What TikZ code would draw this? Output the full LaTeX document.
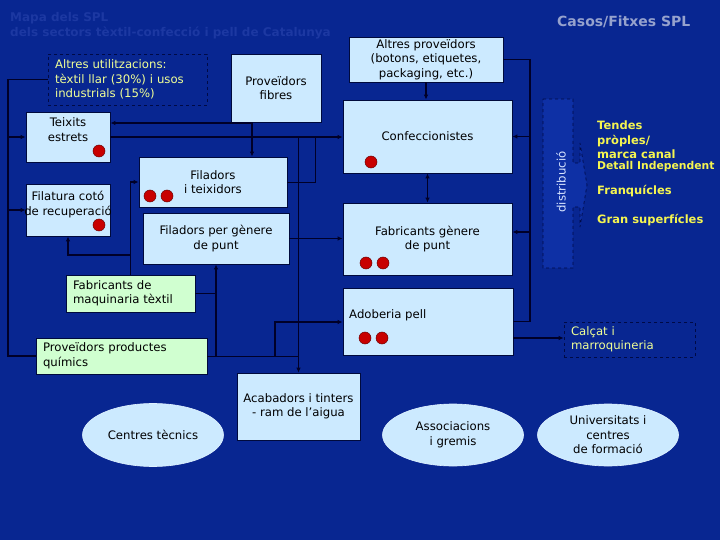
\documentclass[tikz,border=0pt]{standalone}
\usepackage{fontspec}
\setmainfont{DejaVu Sans}
\usetikzlibrary{arrows.meta,shapes.geometric}
\definecolor{bg}{RGB}{8,38,145}
\definecolor{lb}{RGB}{204,234,255}
\definecolor{lg}{RGB}{208,255,208}
\definecolor{lin}{RGB}{0,0,40}
\definecolor{boxline}{RGB}{0,10,60}
\definecolor{dashc}{RGB}{0,10,70}
\definecolor{yel}{RGB}{240,255,150}
\definecolor{ybold}{RGB}{245,245,80}
\definecolor{dotred}{RGB}{200,0,0}
\definecolor{dotdark}{RGB}{110,0,0}
\definecolor{titc}{RGB}{28,56,162}
\definecolor{casc}{RGB}{150,162,205}
\definecolor{distf}{RGB}{14,48,165}
\definecolor{distt}{RGB}{215,228,255}
\newcommand\myfs{\fontsize{11.7}{14.5}\selectfont}
\newcommand\myfsb{\fontsize{11.5}{14}\selectfont\bfseries}
\tikzset{
  box/.style={draw=boxline, fill=lb, line width=0.8pt, inner sep=0pt, align=center, font=\myfs, text=black},
  gbox/.style={box, fill=lg, align=left},
  dbox/.style={draw=dashc, dashed, line width=0.7pt, fill=bg, inner sep=0pt, align=left, text=yel, font=\myfs},
  ell/.style={ellipse, draw=lb!60!white, fill=lb, line width=0.6pt, inner sep=0pt, align=center, font=\myfs, text=black},
  con/.style={draw=lin, line width=1.4pt},
  thin/.style={draw=lin, line width=0.9pt},
  tip/.tip={Latex[length=5pt,width=4.5pt]},
  arr/.style={con, -tip},
  tarr/.style={thin, -tip},
  darr/.style={con, tip-tip},
  dot/.style={circle, fill=dotred, draw=dotdark, line width=0.5pt, minimum size=12pt, inner sep=0pt},
  lbl/.style={font=\myfs, inner sep=0pt, align=center, text=black},
  yl/.style={font=\myfsb, text=ybold, inner sep=0pt, anchor=west, text height=8pt, text depth=2pt},
}
\begin{document}
\begin{tikzpicture}[x=1pt,y=-1pt]
\fill[bg] (0,0) rectangle (720,540);
\useasboundingbox (0,0) rectangle (720,540);

% titles
\node[font=\fontsize{12}{14}\selectfont\bfseries, text=titc, anchor=west, inner sep=0pt] (t1) at (10,18) {Mapa dels SPL};
\node[font=\fontsize{12}{14}\selectfont\bfseries, text=titc, anchor=west, inner sep=0pt] (t2) at (10,33) {dels sectors tèxtil-confecció i pell de Catalunya};
\node[font=\fontsize{14}{16}\selectfont\bfseries, text=casc, anchor=west, inner sep=0pt] (cas) at (557,22) {Casos/Fitxes SPL};

% boxes
\node[dbox, minimum width=159pt, minimum height=51pt, text width=145pt] (altu) at (127.5,79.5) {Altres utilitzacions:\\tèxtil llar (30\%) i usos\\industrials (15\%)};
\node[box, minimum width=90pt, minimum height=68pt] (fib) at (276,88) {Proveïdors\\fibres};
\node[box, minimum width=154pt, minimum height=45pt] (altp) at (426,59.5) {Altres proveïdors\\(botons, etiquetes,\\packaging, etc.)};
\node[box, minimum width=169pt, minimum height=73pt] (conf) at (427.5,136.5) {Confeccionistes};
\node[box, minimum width=169pt, minimum height=72pt] (fgp) at (427.5,239) {Fabricants gènere\\de punt};
\node[box, minimum width=170pt, minimum height=67pt] (adob) at (428,321.5) {};
\node[lbl, anchor=west] (adobT) at (349,315) {Adoberia pell};
\node[box, minimum width=84pt, minimum height=50pt] (teix) at (68,137) {};
\node[lbl] (teixT) at (68,129.5) {Teixits\\estrets};
\node[box, minimum width=84pt, minimum height=52pt] (fila) at (68,210) {};
\node[lbl] (filaT) at (68,204.5) {Filatura cotó\\de recuperació};
\node[box, minimum width=148pt, minimum height=50pt] (fit) at (213,182) {Filadors\\i teixidors};
\node[box, minimum width=146pt, minimum height=51pt] (fpg) at (216,238.5) {Filadors per gènere\\de punt};
\node[gbox, minimum width=129pt, minimum height=37pt, text width=115pt] (maq) at (130.5,293.5) {Fabricants de\\maquinaria tèxtil};
\node[gbox, minimum width=171pt, minimum height=36pt, text width=157pt] (quim) at (121.5,356) {Proveïdors productes\\químics};
\node[box, minimum width=123pt, minimum height=67pt] (acab) at (298.5,406.5) {Acabadors i tinters\\- ram de l’aigua};
\node[dbox, minimum width=131pt, minimum height=35pt, text width=117pt] (calc) at (629.5,339.5) {Calçat i\\marroquineria};

% ellipses
\node[ell, minimum width=141pt, minimum height=63pt] (cen) at (153,435) {Centres tècnics};
\node[ell, minimum width=141pt, minimum height=62pt] (assoc) at (453,435) {Associacions\\i gremis};
\node[ell, minimum width=141pt, minimum height=62pt] (univ) at (608,435) {Universitats i\\centres\\de formació};

% dots
\node[dot] (d1) at (99,151) {};
\node[dot] (d2) at (99,225) {};
\node[dot] (d3) at (150,196) {};
\node[dot] (d4) at (167,196) {};
\node[dot] (d5) at (371,162) {};
\node[dot] (d6) at (366,263) {};
\node[dot] (d7) at (383,263) {};
\node[dot] (d8) at (365,338) {};
\node[dot] (d9) at (382,338) {};

% distribution arrow
\draw[draw=dashc, dashed, line width=0.7pt, fill=distf] (543,99) -- (573,99) -- (573,163) -- (580,163) -- (580,143) -- (587,185) -- (580,227) -- (580,207) -- (573,207) -- (573,268) -- (543,268) -- cycle;
\node[font=\myfs, text=distt, rotate=90, inner sep=0pt] (dist) at (561,182) {distribució};

% channel list
\node[yl] (c1) at (597,127) {Tendes};
\node[yl] (c2) at (597,142) {pròples/};
\node[yl] (c3) at (597,156) {marca canal};
\node[yl, font=\fontsize{10.8}{13}\selectfont\bfseries] (c4) at (597,167) {Detall Independent};
\node[yl] (c5) at (597,192) {Franquícles};
\node[yl] (c6) at (597,220) {Gran superfícles};

% junction coordinates
\coordinate (L1) at (8,79.5);
\coordinate (L2) at (8,356);
\coordinate (F1) at (252,123);
\coordinate (J2) at (315,137);
\coordinate (M1) at (130.5,255);
\coordinate (A1) at (275,322);
\coordinate (R1) at (530,59.5);
\coordinate (R2) at (530,232);
\coordinate (C1) at (513,338);

% connectors
\draw[con] (altu.west) -- (L1) -- (L2) -- (quim.west);
\draw[arr] (L1 |- teix.west) -- (teix.west);
\draw[arr] (L1 |- fila.west) -- (fila.west);
\draw[arr] (fib.south -| F1) -- (fit.north -| F1);
\draw[arr] (F1) -- (teix.east |- F1);
\draw[arr] (teix.east) -- (conf.west |- teix.east);
\draw[thin] (fit.east) -| (J2);
\draw[tarr] (acab.north |- teix.east) -- (acab.north);
\draw[arr] (fpg.east) -- (fgp.west |- fpg.east);
\draw[thin] (quim.east) -- (acab.north |- quim.east);
\draw[arr] (fpg.south |- quim.east) -- (fpg.south);
\draw[con] (maq.east) -- (fpg.south |- maq.east);
\draw[arr] (A1 |- quim.east) -- (A1) -- (adob.west |- A1);
\draw[arr] (maq.north) |- (fit.west);
\draw[arr] (M1) -| (fila.south);
\draw[arr] (altp.south) -- (conf.north -| altp.south);
\draw[darr] (conf.south) -- (fgp.north);
\draw[con] (altp.east) -- (R1) -- (R1 |- adob.east) -- (adob.east);
\draw[arr] (R1 |- conf.east) -- (conf.east);
\draw[arr] (R2) -- (fgp.east |- R2);
\draw[arr] (adob.east |- C1) -- (calc.west |- C1);
\end{tikzpicture}
\end{document}
